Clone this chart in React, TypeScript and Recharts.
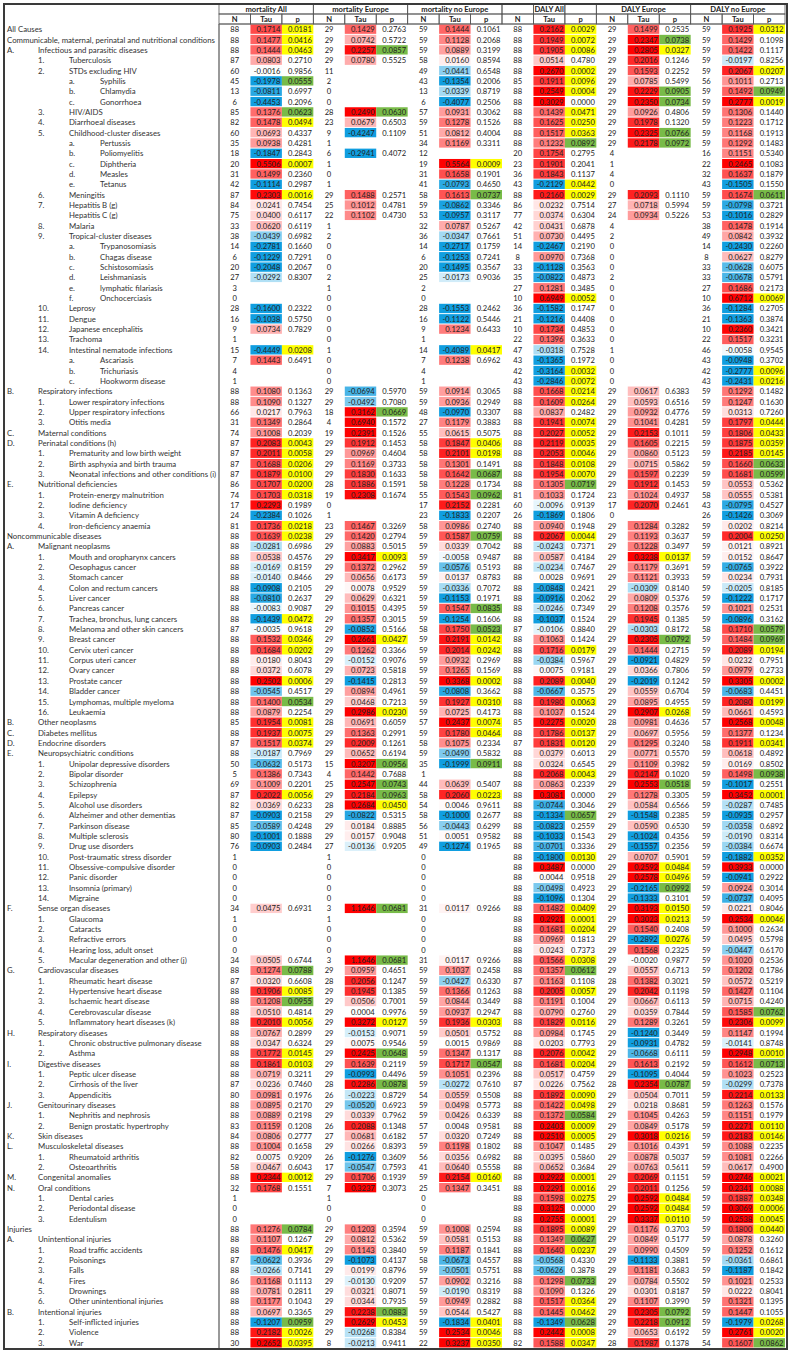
import React from "react";
import { ScatterChart, Scatter, XAxis, YAxis } from "recharts";

const rowMarks = [
  "", "", "A.", "1.", "2.", "a.", "b.", "c.", "3.", "4.",
  "5.", "a.", "b.", "c.", "d.", "e.", "6.", "7.", "", "8.",
  "9.", "a.", "b.", "c.", "d.", "e.", "f.", "10.", "11.", "12.",
  "13.", "14.", "a.", "b.", "c.", "B.", "1.", "2.", "3.", "C.",
  "D.", "1.", "2.", "3.", "E.", "1.", "2.", "3.", "4.", "",
  "A.", "1.", "2.", "3.", "4.", "5.", "6.", "7.", "8.", "9.",
  "10.", "11.", "12.", "13.", "14.", "15.", "16.", "B.", "C.", "D.",
  "E.", "1.", "2.", "3.", "4.", "5.", "6.", "7.", "8.", "9.",
  "10.", "11.", "12.", "13.", "14.", "F.", "1.", "2.", "3.", "4.",
  "5.", "G.", "1.", "2.", "3.", "4.", "5.", "H.", "1.", "2.",
  "I.", "1.", "2.", "3.", "J.", "1.", "2.", "K.", "L.", "1.",
  "2.", "M.", "N.", "1.", "2.", "3.", "", "A.", "1.", "2.",
  "3.", "4.", "5.", "6.", "B.", "1.", "2.", "3.",
];

const rowNames = [
  "All Causes", "Communicable, maternal, perinatal and nutritional conditions", "Infectious and parasitic diseases", "Tuberculosis", "STDs excluding HIV",
  "Syphilis", "Chlamydia", "Gonorrhoea", "HIV/AIDS", "Diarrhoeal diseases",
  "Childhood-cluster diseases", "Pertussis", "Poliomyelitis", "Diphtheria", "Measles",
  "Tetanus", "Meningitis", "Hepatitis B (g)", "Hepatitis C (g)", "Malaria",
  "Tropical-cluster diseases", "Trypanosomiasis", "Chagas disease", "Schistosomiasis", "Leishmaniasis",
  "lymphatic filariasis", "Onchocerciasis", "Leprosy", "Dengue", "Japanese encephalitis",
  "Trachoma", "Intestinal nematode infections", "Ascariasis", "Trichuriasis", "Hookworm disease",
  "Respiratory infections", "Lower respiratory infections", "Upper respiratory infections", "Otitis media", "Maternal conditions",
  "Perinatal conditions (h)", "Prematurity and low birth weight", "Birth asphyxia and birth trauma", "Neonatal infections and other conditions (i)", "Nutritional deficiencies",
  "Protein-energy malnutrition", "Iodine deficiency", "Vitamin A deficiency", "Iron-deficiency anaemia", "Noncommunicable diseases",
  "Malignant neoplasms", "Mouth and oropharynx cancers", "Oesophagus cancer", "Stomach cancer", "Colon and rectum cancers",
  "Liver cancer", "Pancreas cancer", "Trachea, bronchus, lung cancers", "Melanoma and other skin cancers", "Breast cancer",
  "Cervix uteri cancer", "Corpus uteri cancer", "Ovary cancer", "Prostate cancer", "Bladder cancer",
  "Lymphomas, multiple myeloma", "Leukaemia", "Other neoplasms", "Diabetes mellitus", "Endocrine disorders",
  "Neuropsychiatric conditions", "Unipolar depressive disorders", "Bipolar disorder", "Schizophrenia", "Epilepsy",
  "Alcohol use disorders", "Alzheimer and other dementias", "Parkinson disease", "Multiple sclerosis", "Drug use disorders",
  "Post-traumatic stress disorder", "Obsessive-compulsive disorder", "Panic disorder", "Insomnia (primary)", "Migraine",
  "Sense organ diseases", "Glaucoma", "Cataracts", "Refractive errors", "Hearing loss, adult onset",
  "Macular degeneration and other (j)", "Cardiovascular diseases", "Rheumatic heart disease", "Hypertensive heart disease", "Ischaemic heart disease",
  "Cerebrovascular disease", "Inflammatory heart diseases (k)", "Respiratory diseases", "Chronic obstructive pulmonary disease", "Asthma",
  "Digestive diseases", "Peptic ulcer disease", "Cirrhosis of the liver", "Appendicitis", "Genitourinary diseases",
  "Nephritis and nephrosis", "Benign prostatic hypertrophy", "Skin diseases", "Musculoskeletal diseases", "Rheumatoid arthritis",
  "Osteoarthritis", "Congenital anomalies", "Oral conditions", "Dental caries", "Periodontal disease",
  "Edentulism", "Injuries", "Unintentional injuries", "Road traffic accidents", "Poisonings",
  "Falls", "Fires", "Drownings", "Other unintentional injuries", "Intentional injuries",
  "Self-inflicted injuries", "Violence", "War",
];

const rowLevels = [
  0, 0, 1, 2, 2, 3, 3, 3, 2, 2,
  2, 3, 3, 3, 3, 3, 2, 2, 2, 2,
  2, 3, 3, 3, 3, 3, 3, 2, 2, 2,
  2, 2, 3, 3, 3, 1, 2, 2, 2, 1,
  1, 2, 2, 2, 1, 2, 2, 2, 2, 0,
  1, 2, 2, 2, 2, 2, 2, 2, 2, 2,
  2, 2, 2, 2, 2, 2, 2, 1, 1, 1,
  1, 2, 2, 2, 2, 2, 2, 2, 2, 2,
  2, 2, 2, 2, 2, 1, 2, 2, 2, 2,
  2, 1, 2, 2, 2, 2, 2, 1, 2, 2,
  1, 2, 2, 2, 1, 2, 2, 1, 1, 2,
  2, 1, 1, 2, 2, 2, 0, 1, 2, 2,
  2, 2, 2, 2, 1, 2, 2, 2,
];

const groupTitles = ["mortality All", "mortality Europe", "mortality no Europe", "DALY All", "DALY Europe", "DALY no Europe"];
const colTitles = ["N", "Tau", "p"];

const _ = null;

// mortality All
const mortAllN = [
  88, 88, 88, 87, 60, 45, 13, 6, 85, 82,
  60, 35, 18, 20, 31, 42, 87, 84, 75, 33,
  38, 14, 6, 20, 27, 3, 0, 28, 16, 9,
  1, 15, 7, 4, 1, 88, 88, 66, 31, 74,
  87, 87, 87, 87, 86, 74, 17, 24, 81, 88,
  88, 88, 88, 88, 88, 88, 88, 88, 87, 88,
  88, 88, 88, 88, 88, 88, 88, 85, 88, 87,
  88, 50, 5, 69, 87, 82, 87, 85, 80, 76,
  1, 0, 0, 0, 0, 34, 1, 0, 0, 0,
  34, 88, 87, 88, 88, 88, 88, 88, 88, 88,
  88, 88, 87, 80, 88, 88, 83, 84, 88, 82,
  58, 88, 32, 1, 0, 0, 88, 88, 88, 87,
  88, 86, 88, 88, 88, 88, 88, 30,
];
const mortAllTau = [
  0.1714, 0.1477, 0.1444, 0.0803, -0.0016, -0.1978, -0.0811, -0.4453, 0.1376, 0.1478,
  0.0693, 0.0938, -0.1847, 0.5506, 0.1499, -0.1114, 0.2303, 0.0241, 0.04, 0.062,
  -0.0439, -0.2781, -0.1229, -0.2048, -0.0292, _, _, -0.16, -0.1038, 0.0734,
  _, -0.4449, 0.1443, _, _, 0.108, 0.109, 0.0217, 0.1349, 0.1008,
  0.2083, 0.2011, 0.1688, 0.1879, 0.1707, 0.1703, 0.2293, -0.2384, 0.1736, 0.1639,
  -0.0281, 0.0538, -0.0169, -0.014, -0.0908, -0.081, -0.0083, -0.1439, -0.0035, 0.1532,
  0.1684, 0.018, 0.0372, 0.2502, -0.0545, 0.14, 0.0879, 0.1954, 0.1937, 0.1517,
  -0.0187, -0.0632, 0.1386, 0.1009, 0.2022, 0.0369, -0.0903, -0.0589, -0.1001, -0.0903,
  _, _, _, _, _, 0.0475, _, _, _, _,
  0.0505, 0.1274, 0.032, 0.1906, 0.1208, 0.051, 0.201, 0.0767, 0.0347, 0.1772,
  0.1861, 0.0719, 0.0236, 0.0981, 0.0895, 0.0889, 0.1159, 0.0806, 0.1004, 0.0075,
  0.0467, 0.2344, 0.1768, _, _, _, 0.1276, 0.1107, 0.1476, -0.0622,
  -0.0266, 0.1168, 0.0781, 0.1177, 0.0697, -0.1207, 0.2182, 0.2652,
];
const mortAllP = [
  0.0181, 0.0416, 0.0463, 0.271, 0.9856, 0.0555, 0.6997, 0.2096, 0.0623, 0.0494,
  0.4337, 0.4281, 0.2843, 0.0007, 0.236, 0.2987, 0.0016, 0.7454, 0.6117, 0.6119,
  0.6982, 0.166, 0.7291, 0.2067, 0.8307, _, _, 0.2322, 0.575, 0.7829,
  _, 0.0208, 0.6491, _, _, 0.1363, 0.1327, 0.7963, 0.2864, 0.2039,
  0.0043, 0.0058, 0.0206, 0.01, 0.02, 0.0318, 0.1989, 0.1026, 0.0218, 0.0238,
  0.6986, 0.4576, 0.8159, 0.8466, 0.2105, 0.2637, 0.9087, 0.0472, 0.9618, 0.0346,
  0.0202, 0.8043, 0.6078, 0.0006, 0.4517, 0.0534, 0.2254, 0.0081, 0.0075, 0.0374,
  0.7969, 0.5173, 0.7343, 0.2201, 0.0056, 0.6233, 0.2158, 0.4248, 0.1888, 0.2484,
  _, _, _, _, _, 0.6931, _, _, _, _,
  0.6744, 0.0788, 0.6608, 0.0085, 0.0955, 0.4814, 0.0056, 0.2899, 0.6324, 0.0145,
  0.0103, 0.3211, 0.746, 0.1976, 0.217, 0.2198, 0.1208, 0.2777, 0.1658, 0.9209,
  0.6043, 0.0012, 0.1551, _, _, _, 0.0784, 0.1267, 0.0417, 0.3936,
  0.7141, 0.1113, 0.2811, 0.1043, 0.3365, 0.0959, 0.0026, 0.0395,
];

// mortality Europe
const mortEurN = [
  29, 29, 29, 29, 11, 2, 0, 0, 28, 23,
  9, 1, 6, 1, 0, 1, 29, 25, 22, 1,
  2, 0, 0, 0, 2, 1, 0, 0, 0, 0,
  0, 1, 0, 0, 0, 29, 29, 18, 4, 19,
  29, 29, 29, 29, 28, 19, 0, 1, 23, 29,
  29, 29, 29, 29, 29, 29, 29, 29, 29, 29,
  29, 29, 29, 29, 29, 29, 29, 28, 29, 29,
  29, 15, 4, 25, 29, 28, 29, 29, 29, 27,
  1, 0, 0, 0, 0, 3, 1, 0, 0, 0,
  3, 29, 28, 29, 29, 29, 29, 29, 29, 29,
  29, 29, 28, 26, 29, 29, 26, 27, 29, 26,
  17, 29, 7, 1, 0, 0, 29, 29, 29, 29,
  29, 29, 29, 29, 29, 29, 29, 8,
];
const mortEurTau = [
  0.1429, 0.0742, 0.2257, 0.078, _, _, _, _, 0.249, 0.0679,
  -0.4247, _, -0.2941, _, _, _, 0.1488, 0.1012, 0.1102, _,
  _, _, _, _, _, _, _, _, _, _,
  _, _, _, _, _, -0.0694, -0.0492, 0.3162, 0.694, 0.2391,
  0.1912, 0.0969, 0.1169, 0.183, 0.1886, 0.2308, _, _, 0.1467, 0.142,
  0.0883, 0.3417, 0.1372, 0.0656, 0.0078, 0.0629, 0.1015, 0.1357, -0.0852, 0.2661,
  0.1262, -0.0152, 0.0723, -0.1415, 0.0894, 0.0468, 0.2986, 0.0691, 0.1363, 0.2009,
  0.0652, 0.3207, 0.1442, 0.2547, 0.2184, 0.2684, -0.0822, 0.0184, 0.0157, -0.0136,
  _, _, _, _, _, 1.1646, _, _, _, _,
  1.1646, 0.0959, 0.2056, 0.1945, 0.0506, 0.0004, 0.3272, -0.0153, 0.0075, 0.2425,
  0.1639, -0.0993, 0.2286, -0.0223, -0.052, 0.0339, 0.2088, 0.0681, 0.0266, -0.1276,
  -0.0547, 0.1706, 0.3237, _, _, _, 0.1203, 0.0812, 0.1143, -0.1073,
  0.0199, -0.013, 0.0321, 0.0344, 0.2238, 0.2629, -0.0268, -0.0213,
];
const mortEurP = [
  0.2763, 0.5722, 0.0857, 0.5525, _, _, _, _, 0.063, 0.6503,
  0.1109, _, 0.4072, _, _, _, 0.2571, 0.4781, 0.473, _,
  _, _, _, _, _, _, _, _, _, _,
  _, _, _, _, _, 0.597, 0.708, 0.0669, 0.1572, 0.1526,
  0.1453, 0.4604, 0.3733, 0.1633, 0.1591, 0.1674, _, _, 0.3269, 0.2794,
  0.5015, 0.0093, 0.2962, 0.6173, 0.9529, 0.6321, 0.4395, 0.3015, 0.5166, 0.0427,
  0.3366, 0.9076, 0.5818, 0.2813, 0.4961, 0.7213, 0.023, 0.6059, 0.2991, 0.1261,
  0.6194, 0.0956, 0.7688, 0.0743, 0.0963, 0.045, 0.5315, 0.8885, 0.9048, 0.9205,
  _, _, _, _, _, 0.0681, _, _, _, _,
  0.0681, 0.4651, 0.1247, 0.1385, 0.7001, 0.9976, 0.0127, 0.9071, 0.9546, 0.0648,
  0.2119, 0.4496, 0.0878, 0.8729, 0.6923, 0.7962, 0.1348, 0.6182, 0.8393, 0.3609,
  0.7593, 0.1939, 0.3073, _, _, _, 0.3594, 0.5362, 0.384, 0.4137,
  0.8796, 0.9209, 0.8071, 0.7935, 0.0883, 0.0453, 0.8384, 0.9411,
];

// mortality no Europe
const mortNoEurN = [
  59, 59, 59, 58, 49, 43, 13, 6, 57, 59,
  51, 34, 12, 19, 31, 41, 58, 59, 53, 32,
  36, 14, 6, 20, 25, 2, 0, 28, 16, 9,
  1, 14, 7, 4, 1, 59, 59, 48, 27, 55,
  58, 58, 58, 58, 58, 55, 17, 23, 58, 59,
  59, 59, 59, 59, 59, 59, 59, 59, 58, 59,
  59, 59, 59, 59, 59, 59, 59, 57, 59, 58,
  59, 35, 1, 44, 58, 54, 58, 56, 51, 49,
  0, 0, 0, 0, 0, 31, 0, 0, 0, 0,
  31, 59, 59, 59, 59, 59, 59, 59, 59, 59,
  59, 59, 59, 54, 59, 59, 57, 57, 59, 56,
  41, 59, 25, 0, 0, 0, 59, 59, 59, 58,
  59, 57, 59, 59, 59, 59, 59, 22,
];
const mortNoEurTau = [
  0.1444, 0.1128, 0.0889, 0.016, -0.0441, -0.1354, -0.0339, -0.4077, 0.0931, 0.1278,
  0.0812, 0.1169, _, 0.5564, 0.1658, -0.0793, 0.1613, -0.0862, -0.0957, 0.0787,
  -0.0347, -0.2717, -0.1253, -0.1495, -0.0173, _, _, -0.1553, -0.1122, 0.1234,
  _, -0.4089, 0.1238, _, _, 0.0914, 0.0936, -0.097, 0.1179, 0.0615,
  0.1847, 0.2101, 0.1301, 0.1642, 0.1228, 0.1543, 0.2152, -0.1833, 0.0986, 0.1587,
  0.0339, -0.0058, -0.0576, 0.0137, -0.0336, -0.1153, 0.1547, -0.1254, 0.175, 0.2191,
  0.2014, 0.0932, 0.1265, 0.3368, -0.0808, 0.1927, 0.0725, 0.2437, 0.178, 0.1075,
  -0.049, -0.1999, _, 0.0639, 0.206, 0.0046, -0.1, -0.0443, 0.0051, -0.1274,
  _, _, _, _, _, 0.0117, _, _, _, _,
  0.0117, 0.1037, -0.0427, 0.1366, 0.0844, 0.0937, 0.1936, 0.0501, 0.0015, 0.1347,
  0.1717, 0.1051, -0.0272, 0.0559, 0.0498, 0.0426, 0.0048, 0.032, 0.1198, 0.0356,
  0.064, 0.2154, 0.1347, _, _, _, 0.1008, 0.0581, 0.1187, -0.0673,
  -0.0501, 0.0902, -0.019, 0.0949, 0.0544, -0.1834, 0.2534, 0.3237,
];
const mortNoEurP = [
  0.1061, 0.2068, 0.3199, 0.8594, 0.6548, 0.2006, 0.8719, 0.2506, 0.3062, 0.1526,
  0.4004, 0.3311, _, 0.0009, 0.1901, 0.465, 0.0737, 0.3346, 0.3117, 0.5267,
  0.7661, 0.1759, 0.7241, 0.3567, 0.9036, _, _, 0.2462, 0.5446, 0.6433,
  _, 0.0417, 0.6962, _, _, 0.3065, 0.2949, 0.3307, 0.3883, 0.5075,
  0.0406, 0.0198, 0.1491, 0.0687, 0.1734, 0.0962, 0.2281, 0.2207, 0.274, 0.0759,
  0.7042, 0.9487, 0.5193, 0.8783, 0.7072, 0.1971, 0.0835, 0.1606, 0.0523, 0.0142,
  0.0242, 0.2969, 0.1569, 0.0002, 0.3662, 0.031, 0.4173, 0.0074, 0.0464, 0.2334,
  0.5832, 0.0911, _, 0.5407, 0.0223, 0.9611, 0.2677, 0.6299, 0.9582, 0.1965,
  _, _, _, _, _, 0.9266, _, _, _, _,
  0.9266, 0.2458, 0.633, 0.1263, 0.3449, 0.2947, 0.0303, 0.5752, 0.9869, 0.1317,
  0.0547, 0.2396, 0.761, 0.5508, 0.5773, 0.6339, 0.9581, 0.7249, 0.1802, 0.6982,
  0.5558, 0.016, 0.3451, _, _, _, 0.2594, 0.5153, 0.1841, 0.4557,
  0.5751, 0.3216, 0.8319, 0.2882, 0.5427, 0.0401, 0.0046, 0.035,
];

// DALY All
const dalyAllN = [
  88, 88, 88, 88, 88, 85, 88, 88, 88, 88,
  88, 88, 20, 23, 36, 43, 88, 86, 77, 42,
  51, 14, 8, 33, 35, 27, 10, 36, 21, 10,
  22, 47, 43, 42, 43, 88, 88, 88, 88, 88,
  88, 88, 88, 88, 88, 81, 60, 26, 88, 88,
  88, 88, 88, 88, 88, 88, 88, 88, 87, 88,
  88, 88, 88, 88, 88, 88, 88, 85, 88, 87,
  88, 88, 88, 88, 88, 88, 88, 88, 88, 88,
  88, 88, 88, 88, 88, 88, 88, 88, 88, 88,
  88, 88, 87, 88, 88, 88, 88, 88, 88, 88,
  88, 88, 87, 88, 88, 88, 88, 88, 88, 88,
  88, 88, 88, 88, 88, 88, 88, 88, 88, 88,
  88, 88, 88, 88, 88, 88, 88, 82,
];
const dalyAllTau = [
  0.2162, 0.1949, 0.1905, 0.0514, 0.267, 0.1911, 0.2549, 0.3029, 0.1439, 0.1625,
  0.1517, 0.1232, 0.1754, 0.1901, 0.1843, -0.2129, 0.216, 0.0232, 0.0374, 0.0431,
  0.073, -0.2467, 0.097, -0.1128, -0.0822, 0.1281, 0.6949, -0.1582, -0.1216, 0.1734,
  0.1396, -0.0318, -0.1365, -0.3164, -0.2846, 0.1668, 0.1609, 0.0837, 0.1941, 0.2027,
  0.2119, 0.2053, 0.1848, 0.1954, 0.1305, 0.1033, -0.0096, -0.1869, 0.094, 0.2067,
  -0.0243, 0.0587, -0.0234, 0.0028, -0.0848, -0.0916, -0.0246, -0.1037, -0.0106, 0.1063,
  0.1716, -0.0384, 0.0075, 0.2089, -0.0667, 0.198, 0.1037, 0.2275, 0.1786, 0.1831,
  0.0379, 0.0324, 0.2068, 0.0863, 0.3081, -0.0744, -0.1334, -0.0823, -0.1033, -0.0701,
  -0.18, 0.3487, 0.0044, -0.0498, -0.1096, 0.1482, 0.2921, 0.1681, 0.0969, 0.0243,
  0.1566, 0.1357, 0.1163, 0.2005, 0.1191, 0.079, 0.1829, 0.0984, 0.0203, 0.2076,
  0.1681, 0.0517, 0.0226, 0.1892, 0.1422, 0.1372, 0.2403, 0.251, 0.1047, 0.0395,
  0.0652, 0.2922, 0.2291, 0.1598, 0.3125, 0.2755, 0.1895, 0.1349, 0.164, -0.0568,
  -0.0626, 0.1298, 0.109, 0.1517, 0.1445, -0.1349, 0.2442, 0.1588,
];
const dalyAllP = [
  0.0029, 0.0072, 0.0086, 0.478, 0.0002, 0.0096, 0.0004, 0.0, 0.0471, 0.025,
  0.0363, 0.0892, 0.2795, 0.2041, 0.1137, 0.0442, 0.0029, 0.7514, 0.6304, 0.6878,
  0.4495, 0.219, 0.7368, 0.3563, 0.4873, 0.3485, 0.0052, 0.1747, 0.4408, 0.4853,
  0.3633, 0.7528, 0.1972, 0.0032, 0.0072, 0.0214, 0.0264, 0.2482, 0.0074, 0.0052,
  0.0035, 0.0046, 0.0108, 0.007, 0.0719, 0.1724, 0.9139, 0.1806, 0.1948, 0.0044,
  0.7371, 0.4184, 0.7467, 0.9691, 0.2421, 0.2062, 0.7349, 0.1524, 0.884, 0.1424,
  0.0179, 0.5967, 0.9181, 0.004, 0.3575, 0.0063, 0.1524, 0.002, 0.0137, 0.012,
  0.6013, 0.6545, 0.0043, 0.2339, 0.0, 0.3046, 0.0657, 0.2559, 0.1543, 0.3336,
  0.013, 0.0, 0.9518, 0.4923, 0.1304, 0.0409, 0.0001, 0.0204, 0.1813, 0.7373,
  0.0308, 0.0612, 0.1108, 0.0057, 0.1004, 0.276, 0.0116, 0.1745, 0.7793, 0.0042,
  0.0204, 0.4759, 0.7562, 0.009, 0.0498, 0.0584, 0.0009, 0.0005, 0.1485, 0.586,
  0.3684, 0.0001, 0.0016, 0.0275, 0.0, 0.0001, 0.0089, 0.0627, 0.0237, 0.433,
  0.3878, 0.0733, 0.1326, 0.0364, 0.0462, 0.0628, 0.0008, 0.0347,
];

// DALY Europe
const dalyEurN = [
  29, 29, 29, 29, 29, 29, 29, 29, 29, 29,
  29, 29, 4, 1, 4, 0, 29, 27, 24, 4,
  2, 0, 0, 0, 2, 0, 0, 0, 0, 0,
  0, 1, 0, 0, 0, 29, 29, 29, 29, 29,
  29, 29, 29, 29, 29, 23, 17, 0, 29, 29,
  29, 29, 29, 29, 29, 29, 29, 29, 29, 29,
  29, 29, 29, 29, 29, 29, 29, 28, 29, 29,
  29, 29, 29, 29, 29, 29, 29, 29, 29, 29,
  29, 29, 29, 29, 29, 29, 29, 29, 29, 29,
  29, 29, 28, 29, 29, 29, 29, 29, 29, 29,
  29, 29, 28, 29, 29, 29, 29, 29, 29, 29,
  29, 29, 29, 29, 29, 29, 29, 29, 29, 29,
  29, 29, 29, 29, 29, 29, 29, 28,
];
const dalyEurTau = [
  0.1499, 0.2347, 0.2805, 0.2016, 0.1593, 0.0785, 0.2229, 0.235, 0.0926, 0.1978,
  0.2325, 0.2178, _, _, _, _, 0.2093, 0.0718, 0.0934, _,
  _, _, _, _, _, _, _, _, _, _,
  _, _, _, _, _, 0.0617, 0.0593, 0.0932, 0.1041, 0.2153,
  0.1605, 0.086, 0.0715, 0.1597, 0.1912, 0.1024, 0.207, _, 0.1284, 0.1193,
  0.1228, 0.3238, 0.1179, 0.1121, -0.0309, 0.0809, 0.1208, 0.1945, -0.0303, 0.2305,
  0.1444, -0.0921, 0.0366, -0.2019, 0.0559, 0.0895, 0.2907, 0.0981, 0.0697, 0.1295,
  0.0771, 0.1109, 0.2147, 0.2553, 0.1278, 0.0584, -0.1548, 0.059, -0.1024, -0.1557,
  0.0707, 0.2592, 0.2578, -0.2165, -0.1333, 0.3193, 0.3023, 0.154, -0.2892, 0.1568,
  -0.002, 0.0557, 0.1382, 0.2042, 0.0667, 0.0359, 0.1289, -0.124, -0.0931, -0.0668,
  0.1613, -0.1095, 0.2354, 0.0504, 0.0218, 0.1045, 0.0849, 0.3018, 0.1016, 0.0878,
  0.0763, 0.2069, 0.2011, 0.2592, 0.2592, 0.3337, 0.1176, 0.0849, 0.099, -0.1133,
  0.1181, 0.0784, 0.0301, 0.1107, 0.2305, 0.2218, 0.0653, 0.1987,
];
const dalyEurP = [
  0.2535, 0.0738, 0.0327, 0.1246, 0.2252, 0.5499, 0.0905, 0.0734, 0.4806, 0.132,
  0.0766, 0.0972, _, _, _, _, 0.111, 0.5994, 0.5226, _,
  _, _, _, _, _, _, _, _, _, _,
  _, _, _, _, _, 0.6383, 0.6516, 0.4776, 0.4281, 0.1011,
  0.2215, 0.5123, 0.5862, 0.2239, 0.1453, 0.4937, 0.2461, _, 0.3282, 0.3637,
  0.3497, 0.0137, 0.3691, 0.3933, 0.814, 0.5376, 0.3576, 0.1385, 0.8172, 0.0792,
  0.2715, 0.4829, 0.7806, 0.1242, 0.6704, 0.4955, 0.0268, 0.4636, 0.5956, 0.324,
  0.557, 0.3982, 0.102, 0.0518, 0.3305, 0.6566, 0.2385, 0.653, 0.4356, 0.2356,
  0.5901, 0.0484, 0.0496, 0.0992, 0.3101, 0.015, 0.0213, 0.2408, 0.0276, 0.2325,
  0.9877, 0.6713, 0.3021, 0.1198, 0.6113, 0.7844, 0.3261, 0.3449, 0.4782, 0.6111,
  0.2192, 0.4044, 0.0787, 0.7011, 0.8681, 0.4263, 0.5178, 0.0216, 0.4391, 0.5037,
  0.5611, 0.1151, 0.1256, 0.0484, 0.0484, 0.011, 0.3703, 0.5177, 0.4509, 0.3881,
  0.3683, 0.5502, 0.8187, 0.399, 0.0792, 0.0912, 0.6192, 0.1378,
];

// DALY no Europe
const dalyNoEurN = [
  59, 59, 59, 59, 59, 56, 59, 59, 59, 59,
  59, 59, 16, 22, 32, 43, 59, 59, 53, 38,
  49, 14, 8, 33, 33, 27, 10, 36, 21, 10,
  22, 46, 43, 42, 43, 59, 59, 59, 59, 59,
  59, 59, 59, 59, 59, 58, 43, 26, 59, 59,
  59, 59, 59, 59, 59, 59, 59, 59, 58, 59,
  59, 59, 59, 59, 59, 59, 59, 57, 59, 58,
  59, 59, 59, 59, 59, 59, 59, 59, 59, 59,
  59, 59, 59, 59, 59, 59, 59, 59, 59, 59,
  59, 59, 59, 59, 59, 59, 59, 59, 59, 59,
  59, 59, 59, 59, 59, 59, 59, 59, 59, 59,
  59, 59, 59, 59, 59, 59, 59, 59, 59, 59,
  59, 59, 59, 59, 59, 59, 59, 54,
];
const dalyNoEurTau = [
  0.1925, 0.1429, 0.1422, -0.0197, 0.2067, 0.1011, 0.1492, 0.2777, 0.1306, 0.1223,
  0.1168, 0.1292, 0.1151, 0.2465, 0.1637, -0.1505, 0.1674, -0.0798, -0.1016, 0.1478,
  0.0842, -0.243, 0.0627, -0.0628, -0.0678, 0.1686, 0.6712, -0.1284, -0.1363, 0.236,
  0.1517, -0.0058, -0.0948, -0.2777, -0.2431, 0.1292, 0.1247, 0.0313, 0.1797, 0.1806,
  0.1875, 0.2185, 0.166, 0.1681, 0.0553, 0.0555, -0.0795, -0.1426, 0.0202, 0.2004,
  0.0121, 0.0152, -0.0765, 0.0234, -0.0205, -0.1222, 0.1021, -0.0896, 0.171, 0.1484,
  0.2089, 0.0232, 0.0979, 0.3305, -0.0683, 0.208, 0.0661, 0.2568, 0.1377, 0.1911,
  0.0618, 0.0169, 0.1498, -0.1017, 0.3452, -0.0287, -0.0935, -0.0358, -0.019, -0.0384,
  -0.1882, 0.3933, -0.0941, 0.0924, -0.0737, 0.0221, 0.2534, 0.1, 0.0495, -0.0447,
  0.102, 0.1202, 0.0572, 0.1427, 0.0715, 0.1585, 0.2306, 0.1147, -0.0141, 0.2948,
  0.1612, 0.1023, -0.0299, 0.2214, 0.1263, 0.1151, 0.2271, 0.2183, 0.1088, 0.1081,
  0.0617, 0.2746, 0.2341, 0.1887, 0.3069, 0.2538, 0.18, 0.0878, 0.1252, -0.0361,
  -0.1187, 0.1021, 0.0222, 0.1321, 0.1447, -0.1979, 0.2761, 0.1607,
];
const dalyNoEurP = [
  0.0312, 0.1098, 0.1117, 0.8256, 0.0207, 0.2713, 0.0949, 0.0019, 0.144, 0.1712,
  0.1913, 0.1483, 0.534, 0.1083, 0.1879, 0.155, 0.0611, 0.3721, 0.2829, 0.1914,
  0.3932, 0.226, 0.8279, 0.6075, 0.5791, 0.2173, 0.0069, 0.2705, 0.3874, 0.3421,
  0.3231, 0.9545, 0.3702, 0.0096, 0.0216, 0.1482, 0.163, 0.726, 0.0444, 0.0433,
  0.0359, 0.0145, 0.0633, 0.0599, 0.5362, 0.5381, 0.4527, 0.3069, 0.8214, 0.025,
  0.8921, 0.8647, 0.3922, 0.7931, 0.8185, 0.1717, 0.2531, 0.3162, 0.0579, 0.0969,
  0.0194, 0.7951, 0.2733, 0.0002, 0.4451, 0.0199, 0.4593, 0.0048, 0.1234, 0.0341,
  0.4892, 0.8502, 0.0938, 0.2551, 0.0001, 0.7485, 0.2957, 0.6892, 0.8314, 0.6674,
  0.0352, 0.0, 0.2922, 0.3014, 0.4095, 0.8046, 0.0046, 0.2634, 0.5798, 0.617,
  0.2536, 0.1786, 0.5219, 0.1104, 0.424, 0.0762, 0.0099, 0.1994, 0.8748, 0.001,
  0.0713, 0.2523, 0.7378, 0.0133, 0.1576, 0.1979, 0.011, 0.0146, 0.2235, 0.2266,
  0.49, 0.0021, 0.0088, 0.0348, 0.0006, 0.0045, 0.044, 0.326, 0.1612, 0.6861,
  0.1842, 0.2533, 0.8041, 0.1395, 0.1055, 0.0268, 0.002, 0.0862,
];

const groups = [
  { n: mortAllN, tau: mortAllTau, p: mortAllP },
  { n: mortEurN, tau: mortEurTau, p: mortEurP },
  { n: mortNoEurN, tau: mortNoEurTau, p: mortNoEurP },
  { n: dalyAllN, tau: dalyAllTau, p: dalyAllP },
  { n: dalyEurN, tau: dalyEurTau, p: dalyEurP },
  { n: dalyNoEurN, tau: dalyNoEurTau, p: dalyNoEurP },
];

const W = 790;
const H = 1353;
const LABEL_W = 219;
const TOP = 4;
const HEAD_H = 20;
const RIGHT = 5;
const BOTTOM = 5;
const NCOL = 18;
const NROW = rowNames.length;
const colW = (W - LABEL_W - RIGHT) / NCOL;
const rowH = (H - TOP - HEAD_H - BOTTOM) / NROW;
const FONT = "Lato, 'Open Sans', sans-serif";

const cells: any[] = [];
groups.forEach((g, gi) => {
  rowNames.forEach((_name, r) => {
    cells.push({ col: gi * 3, row: r, kind: "n", value: g.n[r] });
    if (g.tau[r] !== null) cells.push({ col: gi * 3 + 1, row: r, kind: "tau", value: g.tau[r] });
    if (g.p[r] !== null) cells.push({ col: gi * 3 + 2, row: r, kind: "p", value: g.p[r] });
  });
});

const mix = (a: number[], b: number[], t: number) =>
  `rgb(${a.map((v, i) => Math.round(v + (b[i] - v) * t)).join(",")})`;

// red for positive tau, blue for negative, fading to white near zero
function tauFill(v: number) {
  if (v >= 0) return mix([255, 255, 255], [255, 0, 0], Math.min(1, v / 0.24));
  return mix([255, 255, 255], [16, 158, 224], Math.min(1, -v / 0.09));
}

function pFill(v: number) {
  if (v > 0 && v < 0.05) return "#ffff00";
  if (v >= 0.05 && v < 0.1) return "#78bb48";
  return "none";
}

function renderCell(props: any) {
  const { cx, cy, payload } = props;
  if (cx == null || cy == null) return <g />;
  const { kind, value } = payload;
  const x0 = cx - colW / 2;
  if (kind === "n") {
    return (
      <text x={cx} y={cy} textAnchor="middle" dominantBaseline="central" fontSize={7.6} fill="#222" fontFamily={FONT}>
        {value}
      </text>
    );
  }
  const fill = kind === "tau" ? tauFill(value) : pFill(value);
  return (
    <g>
      {fill !== "none" && (
        <rect x={x0} y={cy - rowH / 2 + 0.5} width={colW} height={rowH - 1} fill={fill} />
      )}
      <text x={x0 + colW - 1.5} y={cy} textAnchor="end" dominantBaseline="central" fontSize={7.6} fill="#222" fontFamily={FONT}>
        {value.toFixed(4)}
      </text>
    </g>
  );
}

function RowLabel(props: any) {
  const { y, payload } = props;
  const r = payload.value;
  const level = rowLevels[r];
  const step = 31;
  const base = 7;
  return (
    <g fontFamily={FONT} fontSize={7.8} fill="#333">
      {level > 0 && rowMarks[r] && (
        <text x={base + step * (level - 1)} y={y} dominantBaseline="central">
          {rowMarks[r]}
        </text>
      )}
      <text x={base + step * level} y={y} dominantBaseline="central">
        {rowNames[r]}
      </text>
    </g>
  );
}

function HeaderTick(props: any) {
  const { x, y, payload } = props;
  const i = payload.value;
  const g = Math.floor(i / 3);
  const k = i % 3;
  const stroke = "#555";
  const rowTwo = (
    <g>
      <rect x={x - colW / 2} y={y - HEAD_H / 2} width={colW} height={HEAD_H / 2} fill="none" stroke={stroke} strokeWidth={0.8} />
      <text x={x} y={y - HEAD_H / 4} textAnchor="middle" dominantBaseline="central" fontSize={7.6} fontWeight="bold" fill="#222" fontFamily={FONT}>
        {colTitles[k]}
      </text>
    </g>
  );
  let rowOne = null;
  if (g === 3) {
    rowOne = (
      <g>
        <rect x={x - colW / 2} y={y - HEAD_H} width={colW} height={HEAD_H / 2} fill="none" stroke={stroke} strokeWidth={0.8} />
        {k === 1 && (
          <text x={x} y={y - (HEAD_H * 3) / 4} textAnchor="middle" dominantBaseline="central" fontSize={7.6} fontWeight="bold" fill="#222" fontFamily={FONT}>
            {groupTitles[g]}
          </text>
        )}
      </g>
    );
  } else if (k === 1) {
    rowOne = (
      <g>
        <rect x={x - (colW * 3) / 2} y={y - HEAD_H} width={colW * 3} height={HEAD_H / 2} fill="none" stroke={stroke} strokeWidth={0.8} />
        <text x={x} y={y - (HEAD_H * 3) / 4} textAnchor="middle" dominantBaseline="central" fontSize={7.6} fontWeight="bold" fill="#222" fontFamily={FONT}>
          {groupTitles[g]}
        </text>
      </g>
    );
  }
  return (
    <g>
      {rowOne}
      {rowTwo}
    </g>
  );
}

const colTicks = Array.from({ length: NCOL }, (_v, i) => i);
const rowTicks = rowNames.map((_v, i) => i);

export default function App() {
  return (
    <div style={{ position: "absolute", left: 0, top: 0, width: W, height: H, background: "#fff" }}>
      <ScatterChart
        width={W}
        height={H}
        margin={{ top: TOP, right: RIGHT, bottom: BOTTOM, left: 0 }}
      >
        <XAxis
          type="number"
          dataKey="col"
          orientation="top"
          domain={[-0.5, NCOL - 0.5]}
          ticks={colTicks}
          interval={0}
          height={HEAD_H}
          tickSize={0}
          tickMargin={0}
          tick={<HeaderTick />}
          axisLine={{ stroke: "#555", strokeWidth: 0.8 }}
        />
        <YAxis
          type="number"
          dataKey="row"
          reversed
          domain={[-0.5, NROW - 0.5]}
          ticks={rowTicks}
          interval={0}
          width={LABEL_W}
          tickSize={0}
          tickMargin={0}
          tick={<RowLabel />}
          axisLine={{ stroke: "#777", strokeWidth: 1.5 }}
        />
        <Scatter data={cells} shape={renderCell} isAnimationActive={false} />
      </ScatterChart>
      <div
        style={{
          position: "absolute",
          left: 3,
          top: 3,
          width: 785,
          height: 1347,
          border: "2px solid #3a3a3a",
          boxSizing: "border-box",
          pointerEvents: "none",
        }}
      />
    </div>
  );
}
